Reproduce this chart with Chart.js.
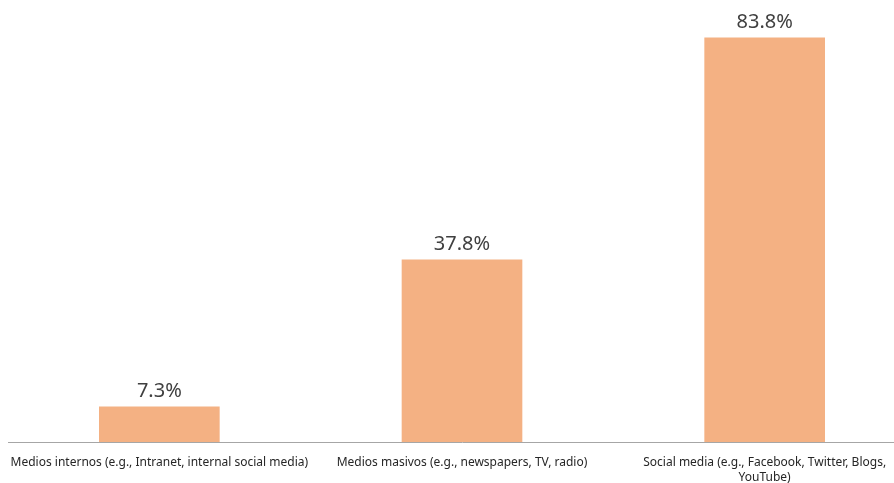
<!DOCTYPE html>
<html>
<head>
  <title>Canales de comunicación</title>
  <script src="https://cdn.jsdelivr.net/npm/chart.js"></script>
  <style>
    html, body { margin: 0; padding: 0; background: #fff; overflow: hidden; }
    #wrap { width: 916px; height: 483px; }
  </style>
</head>
<body>
  <div id="wrap"><canvas id="chart" width="916" height="483"></canvas></div>

  <script>
    const categories = [
      'Medios internos (e.g., Intranet, internal social media)',
      'Medios masivos (e.g., newspapers, TV, radio)',
      ['Social media (e.g., Facebook, Twitter, Blogs,', 'YouTube)']
    ];
    const percentages = [7.3, 37.8, 83.8];

    // writes the percentage above each bar
    const valueLabels = {
      id: 'valueLabels',
      afterDatasetsDraw(chart) {
        const ctx = chart.ctx;
        const meta = chart.getDatasetMeta(0);
        ctx.save();
        ctx.font = '20px "Noto Sans"';
        ctx.fillStyle = '#404040';
        ctx.textAlign = 'center';
        ctx.textBaseline = 'alphabetic';
        meta.data.forEach((bar, i) => {
          ctx.fillText(percentages[i].toFixed(1) + '%', bar.x, bar.y - 10);
        });
        ctx.restore();
      }
    };

    new Chart(document.getElementById('chart'), {
      type: 'bar',
      data: {
        labels: categories,
        datasets: [{
          data: percentages,
          backgroundColor: '#F4B183',
          borderWidth: 0,
          barThickness: 120
        }]
      },
      options: {
        responsive: false,
        animation: false,
        layout: { padding: { top: 8, left: 8, right: 0, bottom: 0 } },
        plugins: {
          legend: { display: false },
          tooltip: { enabled: false }
        },
        scales: {
          x: {
            grid: { display: false },
            border: { display: true, color: '#a6a6a6', width: 1 },
            ticks: {
              color: '#262626',
              font: { family: '"Noto Sans"', size: 12, lineHeight: 1.25 },
              padding: 5,
              maxRotation: 0,
              autoSkip: false
            },
            afterFit(scale) { scale.height = 41; }
          },
          y: {
            display: false,
            min: 0,
            max: 90
          }
        }
      },
      plugins: [valueLabels]
    });
  </script>
</body>
</html>
